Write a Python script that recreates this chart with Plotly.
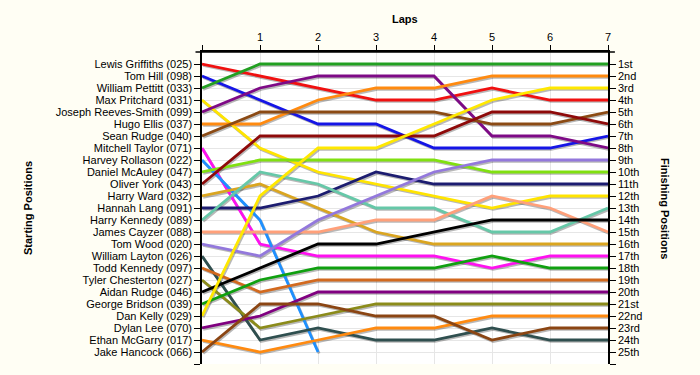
import plotly.graph_objects as go

laps = [0, 1, 2, 3, 4, 5, 6, 7]

drivers = [
    "Lewis Griffiths (025)", "Tom Hill (098)", "William Pettitt (033)", "Max Pritchard (031)",
    "Joseph Reeves-Smith (099)", "Hugo Ellis (037)", "Sean Rudge (040)", "Mitchell Taylor (071)",
    "Harvey Rollason (022)", "Daniel McAuley (047)", "Oliver York (043)", "Harry Ward (032)",
    "Hannah Lang (091)", "Harry Kennedy (089)", "James Cayzer (088)", "Tom Wood (020)",
    "William Layton (026)", "Todd Kennedy (097)", "Tyler Chesterton (027)", "Aidan Rudge (046)",
    "George Bridson (039)", "Dan Kelly (029)", "Dylan Lee (070)", "Ethan McGarry (017)",
    "Jake Hancock (066)",
]

positions = [
    [1, 2, 3, 4, 4, 3, 4, 4],
    [2, 4, 6, 6, 8, 8, 8, 7],
    [3, 1, 1, 1, 1, 1, 1, 1],
    [4, 8, 10, 11, 12, 13, 12, 12],
    [5, 3, 2, 2, 2, 7, 7, 8],
    [6, 6, 4, 3, 3, 2, 2, 2],
    [7, 5, 5, 5, 5, 6, 6, 5],
    [8, 16, 17, 17, 17, 18, 17, 17],
    [9, 14, 25, None, None, None, None, None],
    [10, 9, 9, 9, 9, 10, 10, 10],
    [11, 7, 7, 7, 7, 5, 5, 6],
    [12, 11, 13, 15, 16, 16, 16, 16],
    [13, 13, 12, 10, 11, 11, 11, 11],
    [14, 10, 11, 13, 13, 15, 15, 13],
    [15, 15, 15, 14, 14, 12, 13, 15],
    [16, 17, 14, 12, 10, 9, 9, 9],
    [17, 24, 23, 24, 24, 23, 24, 24],
    [18, 20, 19, 19, 19, 19, 19, 19],
    [19, 23, 22, 21, 21, 21, 21, 21],
    [20, 18, 16, 16, 15, 14, 14, 14],
    [21, 19, 18, 18, 18, 17, 18, 18],
    [22, 12, 8, 8, 6, 4, 3, 3],
    [23, 22, 20, 20, 20, 20, 20, 20],
    [24, 25, 24, 23, 23, 22, 22, 22],
    [25, 21, 21, 22, 22, 24, 23, 23],
]

colors = [
    "#F01010", "#1515E6", "#22A022", "#FFE400", "#7E0A86", "#FF8A10", "#8B4A14", "#FF10F0",
    "#1E90FF", "#80E010", "#8E0A0A", "#DAA520", "#1C1C70", "#66C8A8", "#FFA07A", "#9378DC",
    "#2F4F4F", "#D2691E", "#8B8B1A", "#000000", "#10A010", "#FFE800", "#800080", "#FF8A10",
    "#8B4513",
]

finish_labels = ["1st", "2nd", "3rd"] + [f"{i}th" for i in range(4, 21)] + ["21st", "22nd", "23rd", "24th", "25th"]

fig = go.Figure()

# shadows
for pos in positions:
    fig.add_trace(go.Scatter(
        x=[l + 0.02 for l in laps], y=[(p + 0.12) if p is not None else None for p in pos],
        mode="lines", line=dict(color="rgba(0,0,0,0.28)", width=2.8),
        hoverinfo="skip", showlegend=False,
    ))

for name, pos, col in zip(drivers, positions, colors):
    fig.add_trace(go.Scatter(
        x=laps, y=pos, mode="lines", name=name,
        line=dict(color=col, width=2.8), showlegend=False, hoverinfo="skip",
    ))

# invisible trace for right axis
fig.add_trace(go.Scatter(x=[0], y=[1], yaxis="y2", mode="markers",
                         marker=dict(opacity=0), showlegend=False, hoverinfo="skip"))

tick_vals = list(range(1, 27))
left_text = drivers + [""]
right_text = finish_labels + [""]

font = dict(family="Liberation Sans, Arial, sans-serif", size=11, color="#000000")
title_font = dict(family="Liberation Sans, Arial, sans-serif", size=11, color="#000000")

fig.update_layout(
    width=700, height=375,
    margin=dict(l=202, r=92, t=52, b=11, autoexpand=False),
    paper_bgcolor="#FFFEF4",
    plot_bgcolor="#FFFFFF",
    font=font,
    xaxis=dict(
        range=[0, 7], side="top", tickvals=list(range(0, 8)),
        ticktext=[""] + [str(i) for i in range(1, 8)],
        ticks="outside", ticklen=5, tickcolor="#000000",
        showline=True, linecolor="#000000", linewidth=1.5,
        showgrid=True, gridcolor="#E6E6E6", gridwidth=1, zeroline=False,
        tickfont=font, fixedrange=True, automargin=False,
    ),
    yaxis=dict(
        range=[26, 0], tickvals=tick_vals, ticktext=left_text,
        ticks="outside", ticklen=6, tickcolor="#000000",
        showline=True, linecolor="#000000", linewidth=1.5,
        showgrid=True, gridcolor="#E6E6E6", gridwidth=1, zeroline=False,
        tickfont=font, fixedrange=True, automargin=False,
    ),
    yaxis2=dict(
        range=[26, 0], overlaying="y", side="right", tickvals=tick_vals, ticktext=right_text,
        ticks="outside", ticklen=6, tickcolor="#000000",
        showline=True, linecolor="#000000", linewidth=1.5,
        showgrid=False, zeroline=False, tickfont=font, fixedrange=True, automargin=False,
    ),
    annotations=[
        dict(text="<b>Laps</b>", xref="paper", yref="paper", x=0.5, y=1, yshift=41,
             showarrow=False, font=title_font),
        dict(text="<b>Starting Positions</b>", xref="paper", yref="paper", xshift=-182, x=0, y=0.5,
             textangle=-90, showarrow=False, font=title_font),
        dict(text="<b>Finishing Positions</b>", xref="paper", yref="paper", x=1, xshift=65, y=0.5,
             textangle=90, showarrow=False, font=title_font),
    ],
    shapes=[
        dict(type="line", xref="paper", yref="paper", x0=-0.016, x1=1.017, y0=1, y1=1,
             line=dict(color="#000000", width=1.5)),
    ],
)

fig.write_html("out.html", config={"displayModeBar": False},
               post_script="document.body.style.margin='0';document.body.style.background='#FFFEF4';")
